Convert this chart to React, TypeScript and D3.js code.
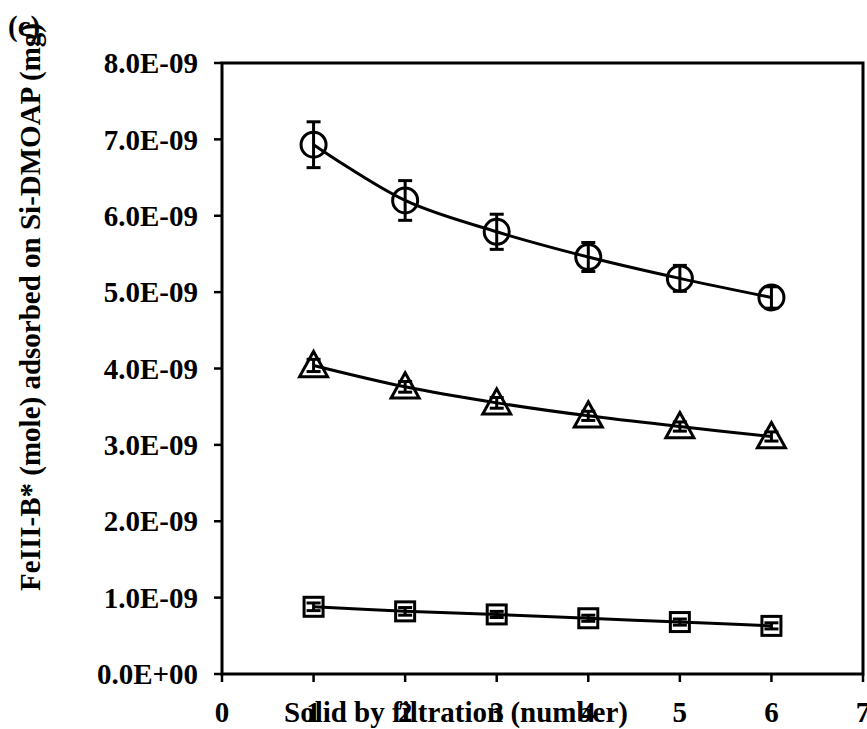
import { useMemo } from 'react';
import * as d3 from 'd3';

// Filtration steps and adsorbed amounts (mole)
const steps = [1, 2, 3, 4, 5, 6];
const circleVals = [6.93e-9, 6.2e-9, 5.79e-9, 5.46e-9, 5.18e-9, 4.93e-9];
const circleErr = [0.3e-9, 0.26e-9, 0.23e-9, 0.19e-9, 0.17e-9, 0.14e-9];
const triangleVals = [4.04e-9, 3.76e-9, 3.55e-9, 3.38e-9, 3.24e-9, 3.11e-9];
const triangleErr = [0.08e-9, 0.07e-9, 0.07e-9, 0.06e-9, 0.06e-9, 0.06e-9];
const squareVals = [0.88e-9, 0.82e-9, 0.78e-9, 0.73e-9, 0.68e-9, 0.63e-9];
const squareErr = [0.05e-9, 0.05e-9, 0.04e-9, 0.04e-9, 0.04e-9, 0.04e-9];

const xTicks = [0, 1, 2, 3, 4, 5, 6, 7];
const yTicks = [0, 1e-9, 2e-9, 3e-9, 4e-9, 5e-9, 6e-9, 7e-9, 8e-9];
const yTickLabels = ['0.0E+00', '1.0E-09', '2.0E-09', '3.0E-09', '4.0E-09', '5.0E-09', '6.0E-09', '7.0E-09', '8.0E-09'];

const W = 867;
const H = 729;
const M = { top: 63, right: 4, bottom: 55, left: 222 };
const FONT = '"Liberation Serif", "Times New Roman", serif';
const FS = 29;

type Shape = 'circle' | 'triangle' | 'square';

function Marker({ shape, cx, cy }: { shape: Shape; cx: number; cy: number }) {
  if (shape === 'circle') return <circle cx={cx} cy={cy} r={12.5} fill="none" stroke="#000" strokeWidth={3} />;
  if (shape === 'square') return <rect x={cx - 9.5} y={cy - 9.5} width={19} height={19} fill="none" stroke="#000" strokeWidth={3} />;
  const s = 14;
  return (
    <path
      d={`M${cx},${cy - s} L${cx + s},${cy + s * 0.8} L${cx - s},${cy + s * 0.8} Z`}
      fill="none"
      stroke="#000"
      strokeWidth={3}
    />
  );
}

export default function App() {
  const innerW = W - M.left - M.right;
  const innerH = H - M.top - M.bottom;

  const x = useMemo(() => d3.scaleLinear().domain([0, 7]).range([0, innerW]), [innerW]);
  const y = useMemo(() => d3.scaleLinear().domain([0, 8e-9]).range([innerH, 0]), [innerH]);

  const series: { shape: Shape; vals: number[]; err: number[] }[] = [
    { shape: 'circle', vals: circleVals, err: circleErr },
    { shape: 'triangle', vals: triangleVals, err: triangleErr },
    { shape: 'square', vals: squareVals, err: squareErr },
  ];

  const line = d3
    .line<number>()
    .x((_, i) => x(steps[i]))
    .y((d) => y(d))
    .curve(d3.curveCatmullRom.alpha(0.5));

  return (
    <svg width={W} height={H} style={{ position: 'absolute', left: 0, top: 0 }} fontFamily={FONT} fontWeight="bold">
      <g transform={`translate(${M.left},${M.top})`}>
        {/* plot frame */}
        <rect x={0} y={0} width={innerW} height={innerH} fill="none" stroke="#000" strokeWidth={3} />

        {/* y axis ticks + labels */}
        {yTicks.map((t, i) => (
          <g key={t} transform={`translate(0,${y(t)})`}>
            <line x1={-8} x2={0} stroke="#000" strokeWidth={2.5} />
            <text x={-24} dy="0.35em" textAnchor="end" fontSize={FS}>
              {yTickLabels[i]}
            </text>
          </g>
        ))}

        {/* x axis ticks + labels */}
        {xTicks.map((t) => (
          <g key={t} transform={`translate(${x(t)},${innerH})`}>
            <line y1={0} y2={8} stroke="#000" strokeWidth={2.5} />
            <text y={48} textAnchor="middle" fontSize={FS}>
              {t}
            </text>
          </g>
        ))}

        {series.map((s) => (
          <g key={s.shape}>
            <path d={line(s.vals) ?? ''} fill="none" stroke="#000" strokeWidth={3} />
            {s.vals.map((v, i) => {
              const cx = x(steps[i]);
              const top = y(v + s.err[i]);
              const bot = y(v - s.err[i]);
              return (
                <g key={i}>
                  <line x1={cx} x2={cx} y1={top} y2={bot} stroke="#000" strokeWidth={3} />
                  <line x1={cx - 7} x2={cx + 7} y1={top} y2={top} stroke="#000" strokeWidth={3} />
                  <line x1={cx - 7} x2={cx + 7} y1={bot} y2={bot} stroke="#000" strokeWidth={3} />
                  <Marker shape={s.shape} cx={cx} cy={y(v)} />
                </g>
              );
            })}
          </g>
        ))}
      </g>

      {/* axis titles */}
      <text x={456} y={722} textAnchor="middle" fontSize={FS}>
        Solid by filtration (number)
      </text>
      <text transform="translate(40,307) rotate(-90)" textAnchor="middle" fontSize={FS}>
        FeIII-B* (mole) adsorbed on Si-DMOAP (mg)
      </text>
      <text x={8} y={36} fontSize={FS}>
        (c)
      </text>
    </svg>
  );
}
